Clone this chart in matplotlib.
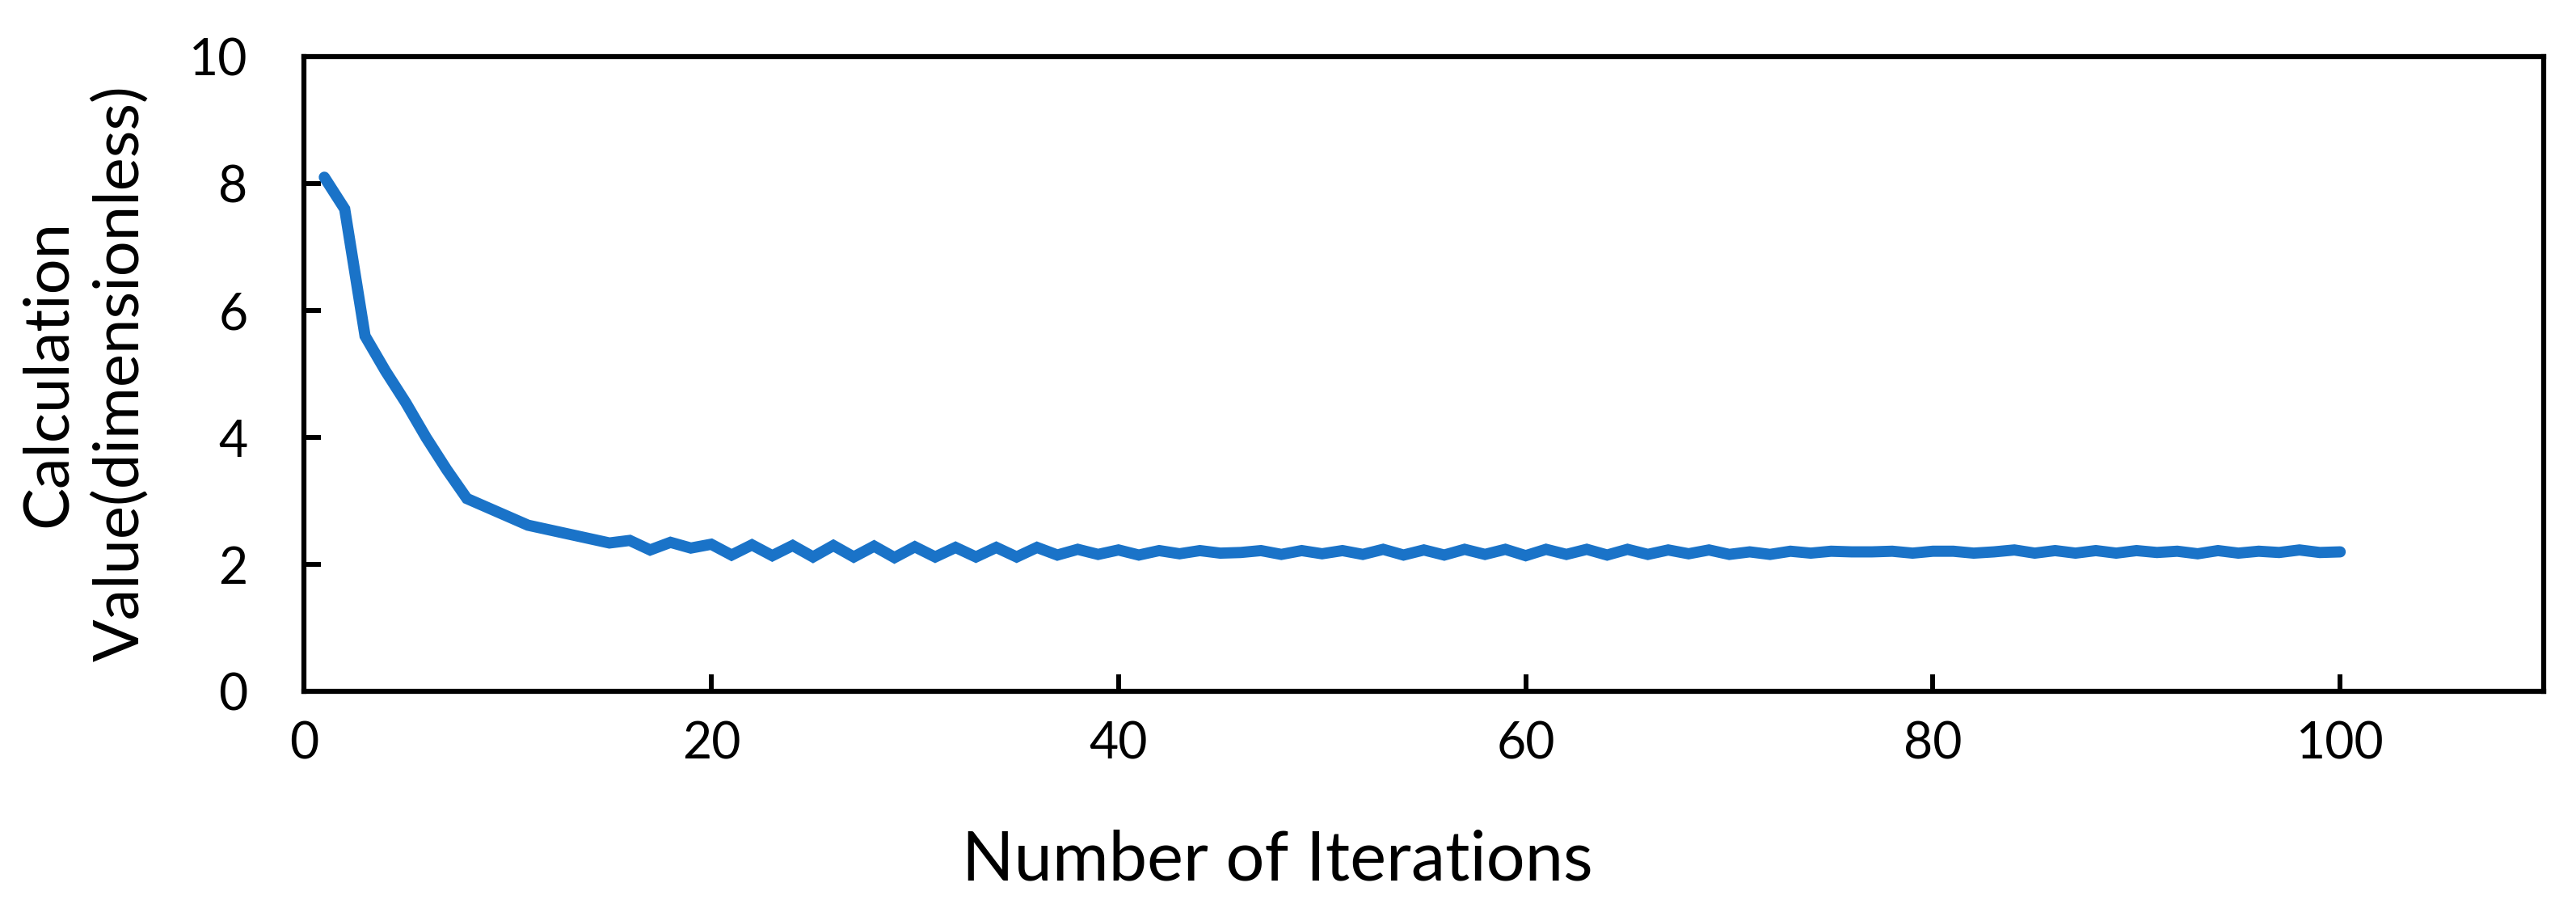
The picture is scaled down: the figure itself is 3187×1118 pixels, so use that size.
import matplotlib.pyplot as plt

# iterations (only the points where the line bends)
iters = [1, 2, 3, 4, 5, 6, 7, 8, 11, 15, 16, 17, 18, 19, 20,
         21, 22, 23, 24, 25, 26, 27, 28, 29, 30,
         31, 32, 33, 34, 35, 36, 37, 38, 39, 40,
         41, 42, 43, 44, 45, 46, 47, 48, 49, 50,
         51, 52, 53, 54, 55, 56, 57, 58, 59, 60,
         61, 62, 63, 64, 65, 66, 67, 68, 69, 70,
         71, 72, 73, 74, 75, 76, 77, 78, 79, 80,
         81, 82, 83, 84, 85, 86, 87, 88, 89, 90,
         91, 92, 93, 94, 95, 96, 97, 98, 99, 100]

values = [8.10, 7.60, 5.60, 5.05, 4.55, 4.00, 3.50, 3.04, 2.62, 2.34,
          2.38, 2.23, 2.35, 2.26, 2.32,
          2.15, 2.31, 2.14, 2.30, 2.12, 2.30, 2.12, 2.29, 2.11, 2.28,
          2.12, 2.27, 2.12, 2.27, 2.12, 2.27, 2.15, 2.24, 2.16, 2.23,
          2.15, 2.22, 2.17, 2.22, 2.18, 2.19, 2.22, 2.16, 2.22, 2.17,
          2.22, 2.16, 2.24, 2.15, 2.23, 2.15, 2.24, 2.16, 2.24, 2.14,
          2.24, 2.16, 2.24, 2.15, 2.24, 2.16, 2.23, 2.17, 2.23, 2.16,
          2.20, 2.16, 2.21, 2.18, 2.21, 2.20, 2.20, 2.21, 2.18, 2.21,
          2.21, 2.18, 2.20, 2.23, 2.18, 2.22, 2.18, 2.22, 2.18, 2.22,
          2.19, 2.21, 2.17, 2.22, 2.18, 2.21, 2.19, 2.23, 2.19, 2.20]

xticks = [0, 20, 40, 60, 80, 100]
yticks = [0, 2, 4, 6, 8, 10]

plt.rcParams['font.family'] = ['Lato', 'DejaVu Sans']

fig = plt.figure(figsize=(31.87, 11.18), dpi=100)
ax = fig.add_axes([0.118, 0.235, 0.8695, 0.7024])

ax.plot(iters, values, color='#1a73c8', linewidth=10,
        solid_capstyle='round', solid_joinstyle='miter')

ax.set_xlim(0, 110)
ax.set_ylim(0, 10)
ax.set_xticks(xticks)
ax.set_yticks(yticks)

for s in ax.spines.values():
    s.set_linewidth(4.5)
    s.set_color('black')

ax.tick_params(axis='y', direction='in', length=15, width=4.3,
               labelsize=45, pad=50)
ax.tick_params(axis='x', direction='in', length=15, width=4.3,
               labelsize=45, pad=26)

# axis titles placed like the original chart
fig.text(0.496, 0.048, 'Number of Iterations', fontsize=61,
         ha='center', va='center')
fig.text(0.033, 0.587, 'Calculation\nValue(dimensionless)', fontsize=56,
         rotation=90, ha='center', va='center', multialignment='center',
         linespacing=1.3)

fig.savefig('out.png', dpi=100)
